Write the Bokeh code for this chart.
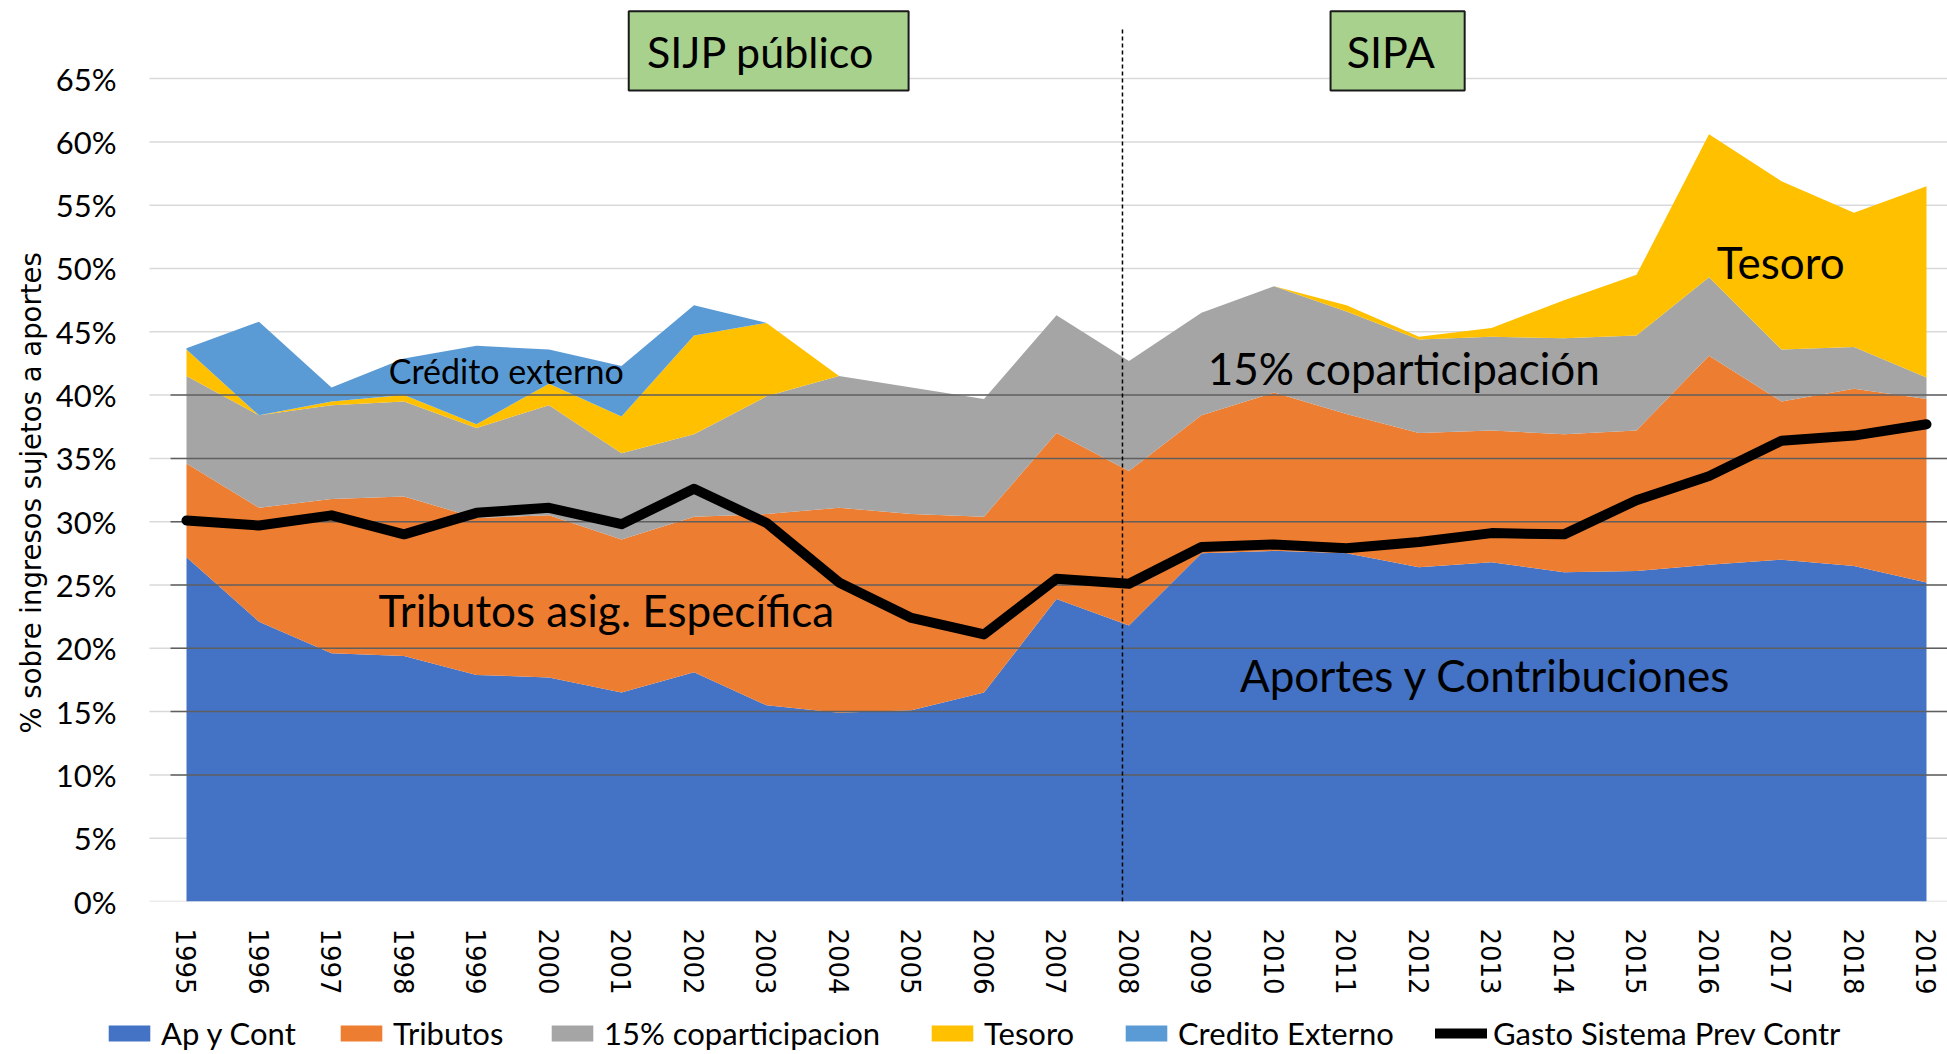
from bokeh.plotting import figure
from bokeh.layouts import column
from bokeh.models import (ColumnDataSource, Range1d, FixedTicker, Label, Title,
                          BoxAnnotation, Legend, LegendItem)
from bokeh.embed import file_html
from bokeh.resources import INLINE

# ---------------- data ----------------
years = list(range(1995, 2020))
year_labels = [str(y) for y in years]

ap_cont = [27.2, 22.1, 19.6, 19.4, 17.9, 17.7, 16.5, 18.1, 15.5, 14.9, 15.1, 16.5,
           23.9, 21.8, 27.5, 27.7, 27.5, 26.4, 26.8, 26.0, 26.1, 26.6, 27.0, 26.5, 25.2]
tributos = [7.4, 9.0, 12.2, 12.6, 12.4, 12.8, 12.1, 12.3, 15.1, 16.2, 15.5, 13.9,
            13.1, 12.2, 10.9, 12.5, 11.0, 10.6, 10.4, 10.9, 11.1, 16.5, 12.5, 14.0, 14.5]
coparticipacion = [6.9, 7.3, 7.4, 7.5, 7.1, 8.7, 6.8, 6.5, 9.3, 10.4, 10.0, 9.3,
                   9.3, 8.7, 8.1, 8.4, 8.1, 7.4, 7.4, 7.6, 7.5, 6.2, 4.1, 3.3, 1.7]
tesoro = [2.1, 0.0, 0.3, 0.5, 0.3, 1.7, 2.9, 7.8, 5.8, 0.0, 0.0, 0.0,
          0.0, 0.0, 0.0, 0.0, 0.5, 0.2, 0.7, 3.0, 4.8, 11.3, 13.3, 10.6, 15.1]
credito = [0.1, 7.4, 1.1, 2.9, 6.2, 2.7, 4.0, 2.4, 0.0, 0.0, 0.0, 0.0,
           0.0, 0.0, 0.0, 0.0, 0.0, 0.0, 0.0, 0.0, 0.0, 0.0, 0.0, 0.0, 0.0]
gasto = [30.1, 29.7, 30.5, 29.0, 30.7, 31.1, 29.8, 32.6, 29.9, 25.2, 22.4, 21.1,
         25.5, 25.1, 28.0, 28.2, 27.9, 28.4, 29.1, 29.0, 31.7, 33.6, 36.4, 36.8, 37.7]

series_keys = ["ap", "trib", "cop", "tes", "cred"]
series_names = ["Ap y Cont", "Tributos", "15% coparticipacion", "Tesoro", "Credito Externo"]
line_name = "Gasto Sistema Prev Contr"
colors = ["#4472C4", "#ED7D31", "#A5A5A5", "#FFC000", "#5B9BD5"]

y_ticks = list(range(0, 70, 5))
y_tick_labels = [f"{t}%" for t in y_ticks]
overlay_levels = [10, 15, 20, 25, 30, 35, 40]

# ---------------- main figure ----------------
X0, X1 = 1993.8552, 2019.2897      # frame spans page x 103 .. 1947
GRID_X0 = 1994.4897                # gridlines start at page x 149
MAIN_H, LEG_H, W = 1015, 39, 1947
FRAME_LEFT = 103
p = figure(width=W, height=MAIN_H, output_backend="svg", toolbar_location=None,
           x_range=Range1d(X0, X1), y_range=Range1d(0, 70.458),
           min_border_left=FRAME_LEFT, min_border_right=0, min_border_top=9,
           min_border_bottom=MAIN_H - 901)
p.outline_line_color = None
p.background_fill_color = "white"
p.border_fill_color = "white"

src = ColumnDataSource(dict(year=years, ap=ap_cont, trib=tributos, cop=coparticipacion,
                            tes=tesoro, cred=credito, gasto=gasto))

# horizontal gridlines (behind the areas)
gsrc = ColumnDataSource(dict(y=y_ticks, x0=[GRID_X0] * len(y_ticks),
                             x1=[X1] * len(y_ticks)))
p.segment(x0="x0", y0="y", x1="x1", y1="y", source=gsrc, line_color="#D9D9D9",
          line_width=1.5, level="underlay")

areas = p.varea_stack(series_keys, x="year", color=colors, source=src)

ov = ColumnDataSource(dict(y=overlay_levels,
                           x0=[1994.78] * len(overlay_levels),
                           x1=[X1] * len(overlay_levels)))
p.segment(x0="x0", y0="y", x1="x1", y1="y", source=ov,
          line_color="#5f5f5f", line_width=1.5)

gl = p.line("year", "gasto", source=src, line_color="black", line_width=10,
            line_join="round", line_cap="round")

# vertical divider (2008)
p.segment(x0=[2007.91], y0=[0], x1=[2007.91], y1=[68.9], line_color="black",
          line_width=1.5, line_dash="4 3")

# green boxes
for l, r in [(2001.10, 2004.96), (2010.78, 2012.63)]:
    p.add_layout(BoxAnnotation(left=l, right=r, bottom=64.06, top=70.32,
                               fill_color="#A9D18E", fill_alpha=1.0,
                               line_color="#1a1a1a", line_width=2, line_alpha=1.0))

def add_text(x, y, txt, size, font="Lato"):
    p.add_layout(Label(x=x, y=y, text=txt, text_align="center",
                       text_baseline="alphabetic", text_font=font,
                       text_font_size=size, text_color="black"))

add_text(2002.92, 67.13, "SIJP público", "43px")
add_text(2011.61, 67.13, "SIPA", "43px")
add_text(1999.41, 41.94, "Crédito externo", "34px")
add_text(2000.79, 23.06, "Tributos asig. Específica", "44px")
add_text(2011.79, 42.18, "15% coparticipación", "44px")
add_text(2016.99, 50.55, "Tesoro", "44px")
add_text(2012.92, 17.93, "Aportes y Contribuciones", "44px")

# y axis title (side panel)
p.add_layout(Title(text="% sobre ingresos sujetos a aportes", align="left", offset=168,
                   text_font="DejaVu Sans", text_font_size="27.5px",
                   text_font_style="normal", text_color="black", standoff=10,
                   vertical_align="middle"), "left")

# axes
p.xaxis.ticker = FixedTicker(ticks=years)
p.xaxis.major_label_overrides = {y: l for y, l in zip(years, year_labels)}
p.xaxis.major_label_orientation = "vertical"
p.xaxis.major_label_text_font = "DejaVu Sans"
p.xaxis.major_label_text_font_size = "26px"
p.xaxis.major_label_text_color = "black"
p.xaxis.major_label_standoff = 27
p.xaxis.major_tick_out = 0
p.xaxis.major_tick_in = 0
p.xaxis.minor_tick_out = 0
p.xaxis.axis_line_color = None
p.xaxis.major_tick_line_color = None
p.xaxis.minor_tick_line_color = None
p.xgrid.grid_line_color = None

p.yaxis.ticker = FixedTicker(ticks=y_ticks)
p.yaxis.major_label_overrides = {t: l for t, l in zip(y_ticks, y_tick_labels)}
p.yaxis.major_label_text_font = "Lato"
p.yaxis.major_label_text_font_size = "31px"
p.yaxis.major_label_text_color = "black"
p.yaxis.major_label_standoff = -13
p.yaxis.major_tick_out = 0
p.yaxis.major_tick_in = 0
p.yaxis.minor_tick_out = 0
p.yaxis.axis_line_color = None
p.yaxis.major_tick_line_color = None
p.yaxis.minor_tick_line_color = None
p.ygrid.grid_line_color = None

# ---------------- legend strip ----------------
lf = figure(width=W, height=LEG_H, output_backend="svg", toolbar_location=None,
            x_range=Range1d(0, 1), y_range=Range1d(0, 1),
            min_border_left=FRAME_LEFT, min_border_right=0, min_border_top=0,
            min_border_bottom=0, x_axis_location=None, y_axis_location=None)
lf.outline_line_color = None
lf.grid.visible = False
# same series drawn (outside this strip's ranges) so the legend keys get their styles
leg_areas = lf.varea_stack(series_keys, x="year", color=colors, source=src)
leg_line = lf.line("year", "gasto", source=src, line_color="black", line_width=10,
                   line_cap="round")
leg_renderers = list(leg_areas) + [leg_line]
names = series_names + [line_name]
legend_x = [103, 335, 546, 926, 1120, 1435]   # left edge of each key, page pixels
for x, r, n in zip(legend_x, leg_renderers, names):
    lf.add_layout(Legend(items=[LegendItem(label=n, renderers=[r])],
                         location=(x - FRAME_LEFT, 2), orientation="horizontal",
                         glyph_width=52, glyph_height=20,
                         label_text_font="Lato", label_text_font_size="31px",
                         label_text_color="black", label_standoff=6, padding=0,
                         margin=0, spacing=0, border_line_color=None,
                         background_fill_alpha=0))

layout = column(p, lf, spacing=0)
open("out.html", "w").write(file_html(layout, INLINE))
